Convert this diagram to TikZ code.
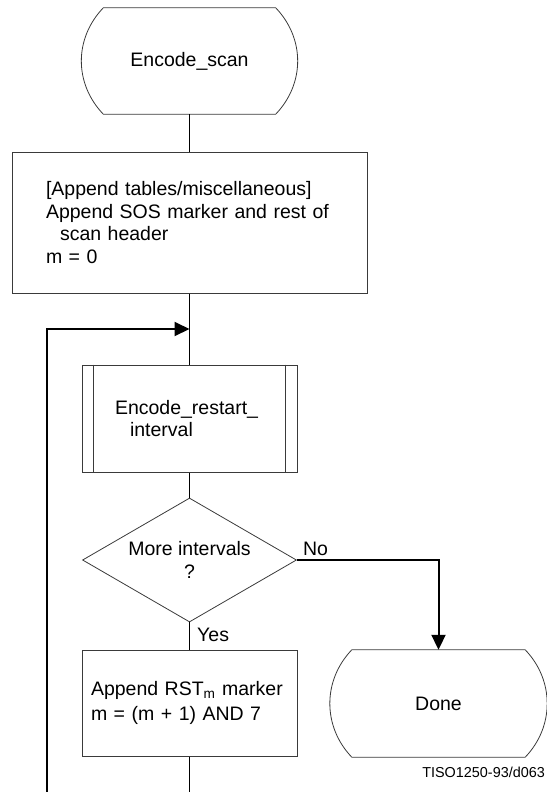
\documentclass[tikz,border=0pt]{standalone}
\usepackage{fontspec}
\setmainfont{Liberation Sans}
\usetikzlibrary{shapes.geometric,arrows.meta}
\definecolor{boxgray}{HTML}{3A3A3A}
\tikzset{
  txt/.style={font=\fontsize{19.5}{22.5}\selectfont},
  term/.style={txt, rectangle, inner sep=0pt, minimum width=172pt, minimum height=106pt},
  proc/.style={txt, draw=boxgray, line width=1pt, rectangle, align=left, inner ysep=0pt},
  decis/.style={txt, draw=boxgray, line width=0.8pt, diamond, inner sep=0pt, aspect=1.726,
     minimum width=214pt, minimum height=124pt, align=center},
  conn/.style={line width=0.9pt, draw=black},
  thick conn/.style={line width=2pt, draw=black},
  tip/.style={-{Triangle[length=15pt,width=14pt]}},
  lbl/.style={txt, inner sep=0pt},
}
\newcommand\termoutline[1]{%
  \draw[draw=boxgray, line width=0.8pt] (#1.north west) -- (#1.north east)
    .. controls +(29.3,30.6) and +(29.3,-30.6) .. (#1.south east)
    -- (#1.south west)
    .. controls +(-29.3,-30.6) and +(-29.3,30.6) .. (#1.north west) -- cycle;}
\begin{document}
\begin{tikzpicture}[x=1pt,y=-1pt]
\useasboundingbox (0,0) rectangle (546,792);

% nodes
\node[term] (scan) at (189.5,61) {Encode\_scan};
\termoutline{scan}

\node[proc, text width=287pt, inner xsep=34pt, minimum height=141pt] (b1) at (189.5,222.5)
  {[Append tables/miscellaneous]\\
   Append SOS marker and rest of\\
   \hspace*{14pt}scan header\\
   m = 0};

\coordinate (j) at (189.5,329);

\node[proc, text width=149pt, inner xsep=33pt, minimum height=107pt] (sub) at (189.5,418.5)
  {Encode\_restart\_\\ \hspace*{15pt}interval};
\draw[draw=boxgray, line width=1pt] ([xshift=12pt]sub.north west) -- ([xshift=12pt]sub.south west);
\draw[draw=boxgray, line width=1pt] ([xshift=-12pt]sub.north east) -- ([xshift=-12pt]sub.south east);

\node[decis] (dec) at (189.5,560) {More intervals\\?};

\node[proc, text width=197pt, inner xsep=9pt, minimum height=106pt] (rst) at (189.5,703)
  {Append RST\textsubscript{m} marker\\[3pt] m = (m + 1) AND 7};

\node[term, minimum width=173pt, minimum height=107pt] (done) at (438.5,703.5) {Done};
\termoutline{done}

\coordinate (bot) at (189.5,792);
\coordinate (loopbot) at (47,792);

% connectors
\draw[conn] (scan.south) -- (b1.north);
\draw[conn] (b1.south) -- (sub.north);
\draw[conn] (sub.south) -- (dec.north);
\draw[conn] (dec.south) -- (rst.north);
\draw[conn] (rst.south) -- (bot);
\draw[thick conn, tip] (loopbot) |- (j);
\draw[thick conn, tip] (dec.east) -| (done.north);

% labels
\node[lbl, anchor=south west] (no) at ([xshift=6pt,yshift=4pt]dec.east) {No};
\node[lbl, anchor=west] (yes) at (197,635) {Yes};
\node[inner sep=0pt, anchor=east, font=\fontsize{14.4}{16}\selectfont] (tag) at (545,772) {TISO1250-93/d063};
\end{tikzpicture}
\end{document}
